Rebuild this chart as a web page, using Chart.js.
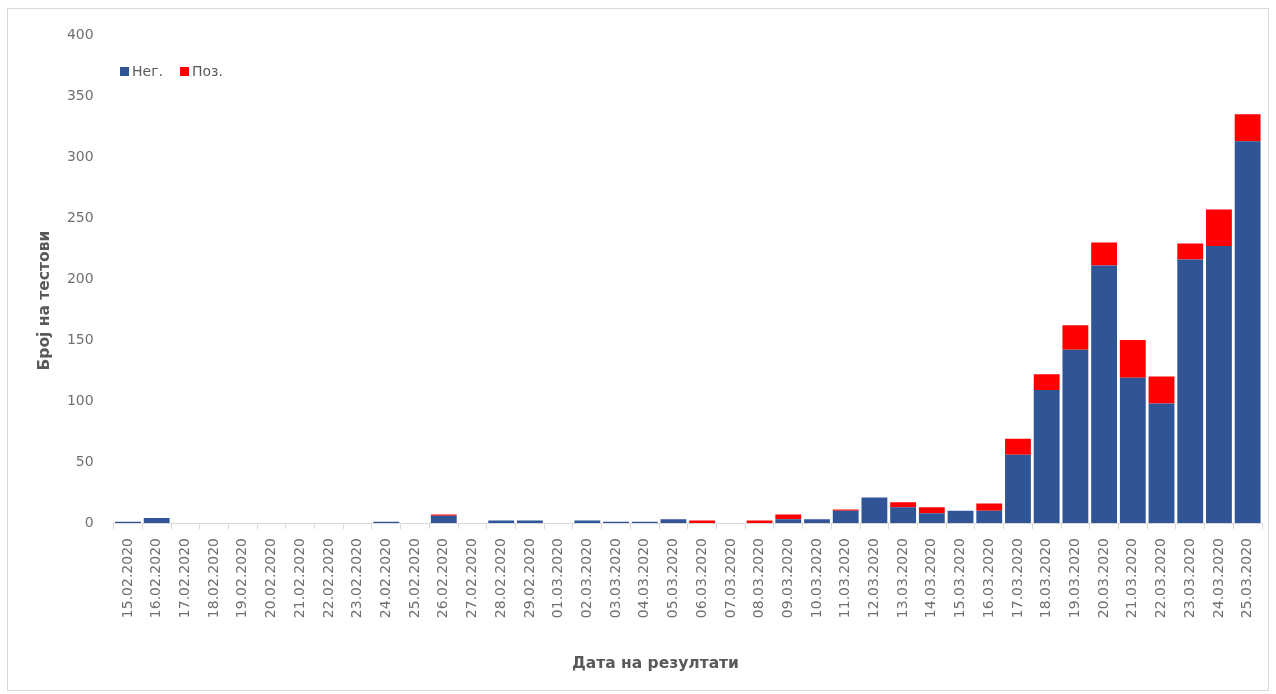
<!DOCTYPE html>
<html>
<head>
<meta charset="utf-8">
<script src="https://cdn.jsdelivr.net/npm/chart.js@4"></script>
<style>
  html, body { margin: 0; padding: 0; background: #fff; }
  #wrap { position: relative; width: 1276px; height: 694px; }
  #frame { position: absolute; left: 7px; top: 8px; width: 1262px; height: 683px; border: 1px solid #d9d9d9; box-sizing: border-box; pointer-events: none; }
  #legend { position: absolute; left: 120px; top: 63px; font-family: "DejaVu Sans", sans-serif; font-size: 14px; color: #595959; display: flex; align-items: center; }
  #legend .item { display: flex; align-items: center; margin-right: 17px; }
  #legend .sw { width: 9px; height: 9px; margin-right: 3px; }
</style>
</head>
<body>
<div id="wrap">
  <canvas id="c" width="1276" height="694"></canvas>
  <div id="frame"></div>
  <div id="legend"></div>
</div>
<script>
const categories = [
  "15.02.2020","16.02.2020","17.02.2020","18.02.2020","19.02.2020","20.02.2020","21.02.2020",
  "22.02.2020","23.02.2020","24.02.2020","25.02.2020","26.02.2020","27.02.2020","28.02.2020",
  "29.02.2020","01.03.2020","02.03.2020","03.03.2020","04.03.2020","05.03.2020","06.03.2020",
  "07.03.2020","08.03.2020","09.03.2020","10.03.2020","11.03.2020","12.03.2020","13.03.2020",
  "14.03.2020","15.03.2020","16.03.2020","17.03.2020","18.03.2020","19.03.2020","20.03.2020",
  "21.03.2020","22.03.2020","23.03.2020","24.03.2020","25.03.2020"
];
const negative = [
  1, 4, 0, 0, 0, 0, 0,
  0, 0, 1, 0, 6, 0, 2,
  2, 0, 2, 1, 1, 3, 0,
  0, 0, 3, 3, 10, 21, 13,
  8, 10, 10, 56, 109, 142, 211,
  119, 98, 216, 227, 313
];
const positive = [
  0, 0, 0, 0, 0, 0, 0,
  0, 0, 0, 0, 1, 0, 0,
  0, 0, 0, 0, 0, 0, 2,
  0, 2, 4, 0, 1, 0, 4,
  5, 0, 6, 13, 13, 20, 19,
  31, 22, 13, 30, 22
];
const seriesNames = ["Нег.", "Поз."];
const seriesColors = ["#2F5597", "#FF0000"];
const yTicks = [0, 50, 100, 150, 200, 250, 300, 350, 400];
const xTitle = "Дата на резултати";
const yTitle = "Број на тестови";

// legend
const lg = document.getElementById('legend');
seriesNames.forEach((n, i) => {
  const it = document.createElement('div'); it.className = 'item';
  const sw = document.createElement('div'); sw.className = 'sw'; sw.style.background = seriesColors[i];
  const tx = document.createElement('span'); tx.textContent = n;
  it.appendChild(sw); it.appendChild(tx); lg.appendChild(it);
});

const tickFont = { family: "DejaVu Sans", size: 14 };

new Chart(document.getElementById('c'), {
  type: 'bar',
  data: {
    labels: categories,
    datasets: [
      { label: seriesNames[0], data: negative, backgroundColor: seriesColors[0], barPercentage: 0.9, categoryPercentage: 1.0 },
      { label: seriesNames[1], data: positive, backgroundColor: seriesColors[1], barPercentage: 0.9, categoryPercentage: 1.0 }
    ]
  },
  options: {
    responsive: false,
    animation: false,
    layout: { padding: { left: 0, right: 14, top: 35, bottom: 0 } },
    plugins: { legend: { display: false }, tooltip: { enabled: false } },
    scales: {
      x: {
        stacked: true,
        grid: { display: true, drawOnChartArea: false, drawTicks: true, tickLength: 6, color: '#d9d9d9' },
        border: { display: true, color: '#d9d9d9' },
        ticks: { color: '#707070', font: tickFont, minRotation: 90, maxRotation: 90, autoSkip: false, padding: 9 },
        title: { display: true, text: xTitle + '            ', color: '#595959', font: { family: "DejaVu Sans", size: 15.5, weight: "bold" }, padding: { top: 0, bottom: 21 } },
        afterFit: (s) => { s.height = 171; }
      },
      y: {
        stacked: true,
        min: 0, max: 400,
        afterBuildTicks: (s) => { s.ticks = yTicks.map(v => ({ value: v })); },
        grid: { display: false },
        border: { display: false },
        ticks: { color: '#707070', font: tickFont, padding: 12 },
        title: { display: true, text: yTitle + '        ', color: '#595959', font: { family: "DejaVu Sans", size: 15.5, weight: "bold" }, padding: { top: 36, bottom: 0 } },
        afterFit: (s) => { s.width = 113.6; }
      }
    }
  }
});
</script>
</body>
</html>
